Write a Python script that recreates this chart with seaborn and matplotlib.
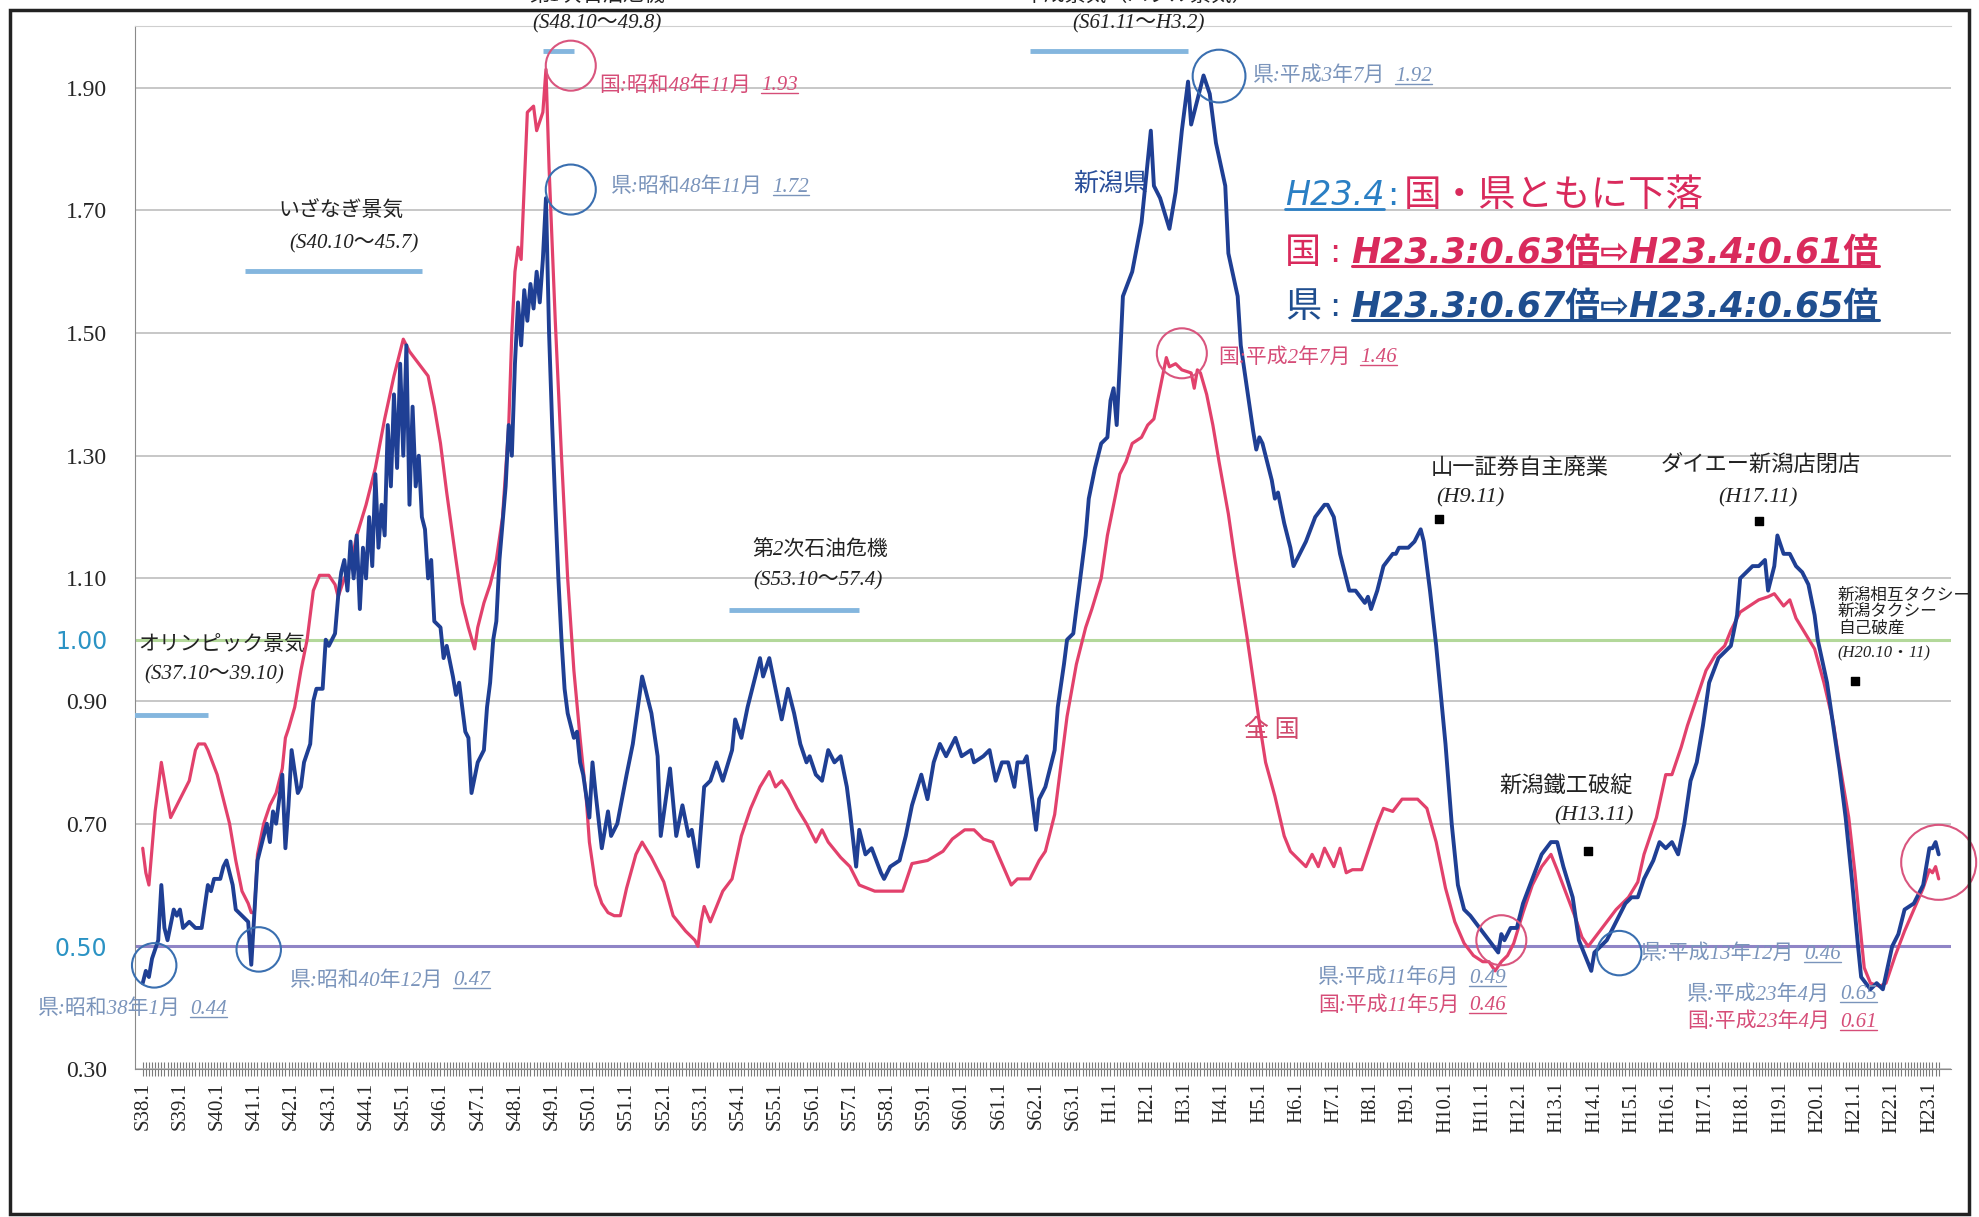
import numpy as np
import pandas as pd
import matplotlib
matplotlib.use("Agg")
import matplotlib.pyplot as plt
import seaborn as sns
from matplotlib.lines import Line2D
from matplotlib.patches import Rectangle
from matplotlib.transforms import IdentityTransform

# 月 = S38.1 (1963年1月) からの通し月数
ken_m = [0, 1, 2, 3, 5, 6, 7, 8, 10, 11,
         12, 13, 15, 17, 19, 21, 22, 23, 25, 26,
         27, 29, 30, 32, 34, 35, 37, 38, 40, 41,
         42, 43, 44, 45, 46, 47, 48, 50, 51, 52,
         54, 55, 56, 58, 59, 60, 62, 63, 64, 65,
         66, 67, 68, 69, 70, 71, 72, 73, 74, 75,
         76, 77, 78, 79, 80, 81, 82, 83, 84, 85,
         86, 87, 88, 89, 90, 91, 92, 93, 94, 96,
         97, 98, 100, 101, 102, 104, 105, 106, 108, 110,
         111, 112, 113, 114, 115, 117, 118, 119, 120, 121,
         122, 123, 124, 125, 126, 127, 128, 129, 130, 131,
         132, 133, 134, 135, 136, 137, 139, 140, 141, 142,
         144, 145, 146, 148, 150, 151, 153, 156, 158, 161,
         163, 164, 166, 167, 170, 172, 174, 176, 177, 179,
         181, 183, 185, 187, 190, 191, 193, 195, 197, 199,
         200, 202, 204, 206, 208, 210, 212, 214, 215, 217,
         219, 221, 223, 225, 227, 228, 230, 231, 233, 235,
         238, 239, 241, 244, 246, 248, 251, 253, 255, 257,
         259, 262, 264, 267, 268, 271, 273, 275, 277, 279,
         281, 282, 284, 285, 286, 288, 289, 291, 294, 295,
         297, 298, 300, 302, 304, 305, 307, 309, 311, 312,
         313, 314, 315, 316, 319, 322, 325, 326, 328, 331,
         333, 335, 337, 338, 340, 342, 344, 346, 349, 350,
         353, 354, 356, 358, 359, 360, 361, 362, 364, 365,
         366, 368, 370, 371, 373, 375, 378, 381, 382, 384,
         386, 389, 391, 394, 395, 396, 398, 400, 403, 404,
         405, 408, 410, 412, 413, 415, 417, 420, 422, 424,
         426, 428, 431, 434, 437, 438, 439, 441, 443, 445,
         448, 451, 454, 456, 458, 461, 463, 467, 468, 470,
         472, 475, 478, 480, 482, 484, 487, 489, 491, 493,
         495, 497, 499, 501, 503, 505, 508, 510, 512, 514,
         515, 517, 519, 521, 523, 524, 526, 527, 529, 531,
         533, 535, 537, 539, 540, 543, 545, 547, 549, 551,
         553, 554, 557, 559, 561, 564, 566, 568, 571, 574,
         576, 577, 578, 579]
ken_v = [0.44, 0.46, 0.45, 0.48, 0.51, 0.60, 0.53, 0.51, 0.56, 0.55,
         0.56, 0.53, 0.54, 0.53, 0.53, 0.60, 0.59, 0.61, 0.61, 0.63,
         0.64, 0.60, 0.56, 0.55, 0.54, 0.47, 0.64, 0.66, 0.70, 0.67,
         0.72, 0.70, 0.74, 0.78, 0.66, 0.73, 0.82, 0.75, 0.76, 0.80,
         0.83, 0.90, 0.92, 0.92, 1.00, 0.99, 1.01, 1.07, 1.11, 1.13,
         1.08, 1.16, 1.10, 1.17, 1.05, 1.15, 1.10, 1.20, 1.12, 1.27,
         1.15, 1.22, 1.17, 1.35, 1.25, 1.40, 1.28, 1.45, 1.30, 1.48,
         1.22, 1.38, 1.25, 1.30, 1.20, 1.18, 1.10, 1.13, 1.03, 1.02,
         0.97, 0.99, 0.94, 0.91, 0.93, 0.85, 0.84, 0.75, 0.80, 0.82,
         0.89, 0.93, 1.00, 1.03, 1.13, 1.25, 1.35, 1.30, 1.45, 1.55,
         1.48, 1.57, 1.52, 1.58, 1.54, 1.60, 1.55, 1.62, 1.72, 1.50,
         1.35, 1.22, 1.10, 1.00, 0.92, 0.88, 0.84, 0.85, 0.80, 0.78,
         0.71, 0.80, 0.75, 0.66, 0.72, 0.68, 0.70, 0.78, 0.83, 0.94,
         0.90, 0.88, 0.81, 0.68, 0.79, 0.68, 0.73, 0.68, 0.69, 0.63,
         0.76, 0.77, 0.80, 0.77, 0.82, 0.87, 0.84, 0.89, 0.93, 0.97,
         0.94, 0.97, 0.92, 0.87, 0.92, 0.88, 0.83, 0.80, 0.81, 0.78,
         0.77, 0.82, 0.80, 0.81, 0.76, 0.72, 0.63, 0.69, 0.65, 0.66,
         0.62, 0.61, 0.63, 0.64, 0.68, 0.73, 0.78, 0.74, 0.80, 0.83,
         0.81, 0.84, 0.81, 0.82, 0.80, 0.81, 0.82, 0.77, 0.80, 0.80,
         0.76, 0.80, 0.80, 0.81, 0.77, 0.69, 0.74, 0.76, 0.82, 0.89,
         0.96, 1.00, 1.01, 1.09, 1.17, 1.23, 1.28, 1.32, 1.33, 1.39,
         1.41, 1.35, 1.45, 1.56, 1.60, 1.68, 1.83, 1.74, 1.72, 1.67,
         1.73, 1.83, 1.91, 1.84, 1.88, 1.92, 1.89, 1.81, 1.74, 1.63,
         1.56, 1.48, 1.41, 1.34, 1.31, 1.33, 1.32, 1.30, 1.26, 1.23,
         1.24, 1.19, 1.15, 1.12, 1.14, 1.16, 1.20, 1.22, 1.22, 1.20,
         1.14, 1.08, 1.08, 1.06, 1.07, 1.05, 1.08, 1.12, 1.14, 1.14,
         1.15, 1.15, 1.16, 1.18, 1.16, 1.08, 0.99, 0.83, 0.70, 0.60,
         0.56, 0.55, 0.53, 0.51, 0.49, 0.52, 0.51, 0.53, 0.53, 0.57,
         0.61, 0.65, 0.67, 0.67, 0.63, 0.58, 0.51, 0.46, 0.49, 0.50,
         0.51, 0.54, 0.57, 0.58, 0.58, 0.61, 0.64, 0.67, 0.66, 0.67,
         0.65, 0.70, 0.77, 0.80, 0.86, 0.93, 0.97, 0.98, 0.99, 1.04,
         1.10, 1.11, 1.12, 1.12, 1.13, 1.08, 1.12, 1.17, 1.14, 1.14,
         1.12, 1.11, 1.09, 1.04, 1.00, 0.93, 0.86, 0.79, 0.71, 0.61,
         0.50, 0.45, 0.43, 0.44, 0.43, 0.50, 0.52, 0.56, 0.57, 0.60,
         0.66, 0.66, 0.67, 0.65]

kuni_m = [0, 1, 2, 4, 6, 8, 9, 11, 13, 15,
          17, 18, 20, 21, 24, 26, 28, 30, 32, 34,
          35, 36, 37, 39, 41, 43, 45, 46, 47, 49,
          51, 53, 55, 57, 60, 62, 63, 65, 67, 69,
          72, 75, 78, 81, 83, 84, 86, 89, 92, 94,
          96, 98, 101, 103, 105, 107, 108, 110, 112, 114,
          116, 118, 119, 120, 121, 122, 124, 126, 127, 129,
          130, 131, 133, 135, 137, 139, 141, 143, 144, 146,
          148, 150, 152, 154, 156, 159, 161, 164, 168, 171,
          175, 178, 179, 180, 181, 183, 187, 190, 193, 196,
          199, 202, 204, 206, 208, 211, 214, 217, 219, 221,
          225, 228, 231, 236, 245, 248, 253, 258, 261, 265,
          268, 271, 274, 277, 280, 282, 286, 289, 291, 294,
          296, 298, 301, 304, 306, 309, 311, 313, 315, 317,
          319, 322, 324, 326, 328, 330, 331, 333, 335, 338,
          339, 340, 341, 343, 345, 347, 350, 352, 354, 356,
          358, 360, 362, 365, 368, 370, 372, 375, 377, 379,
          381, 384, 386, 388, 390, 393, 396, 398, 400, 403,
          406, 411, 414, 417, 420, 423, 426, 429, 432, 434,
          436, 438, 440, 442, 445, 448, 451, 454, 456, 459,
          462, 464, 466, 469, 472, 475, 479, 482, 484, 488,
          491, 493, 496, 498, 501, 504, 507, 510, 512, 515,
          518, 521, 524, 526, 529, 531, 533, 536, 539, 542,
          545, 547, 550, 552, 554, 555, 557, 560, 562, 565,
          568, 571, 574, 576, 577, 578, 579]
kuni_v = [0.66, 0.62, 0.60, 0.72, 0.80, 0.74, 0.71, 0.73, 0.75, 0.77,
          0.82, 0.83, 0.83, 0.82, 0.78, 0.74, 0.70, 0.64, 0.59, 0.57,
          0.555, 0.555, 0.65, 0.70, 0.73, 0.75, 0.79, 0.84, 0.855, 0.89,
          0.95, 1.00, 1.08, 1.105, 1.105, 1.09, 1.07, 1.10, 1.12, 1.17,
          1.22, 1.28, 1.36, 1.43, 1.47, 1.49, 1.47, 1.45, 1.43, 1.38,
          1.32, 1.24, 1.13, 1.06, 1.02, 0.985, 1.02, 1.06, 1.09, 1.13,
          1.20, 1.35, 1.50, 1.60, 1.64, 1.62, 1.86, 1.87, 1.83, 1.86,
          1.93, 1.77, 1.52, 1.30, 1.10, 0.95, 0.84, 0.74, 0.67, 0.60,
          0.57, 0.555, 0.55, 0.55, 0.595, 0.65, 0.67, 0.645, 0.605, 0.55,
          0.525, 0.51, 0.50, 0.54, 0.565, 0.54, 0.59, 0.61, 0.68, 0.725,
          0.76, 0.785, 0.76, 0.77, 0.755, 0.725, 0.70, 0.67, 0.69, 0.67,
          0.645, 0.63, 0.60, 0.59, 0.59, 0.635, 0.64, 0.655, 0.675, 0.69,
          0.69, 0.675, 0.67, 0.635, 0.60, 0.61, 0.61, 0.64, 0.655, 0.715,
          0.795, 0.875, 0.96, 1.02, 1.05, 1.10, 1.17, 1.22, 1.27, 1.29,
          1.32, 1.33, 1.35, 1.36, 1.41, 1.46, 1.445, 1.45, 1.44, 1.435,
          1.41, 1.44, 1.435, 1.40, 1.35, 1.29, 1.205, 1.135, 1.07, 1.005,
          0.935, 0.865, 0.80, 0.745, 0.68, 0.655, 0.645, 0.63, 0.65, 0.63,
          0.66, 0.63, 0.66, 0.62, 0.625, 0.625, 0.67, 0.70, 0.725, 0.72,
          0.74, 0.74, 0.725, 0.67, 0.595, 0.54, 0.505, 0.485, 0.475, 0.475,
          0.46, 0.475, 0.485, 0.505, 0.555, 0.60, 0.63, 0.65, 0.625, 0.585,
          0.545, 0.515, 0.50, 0.52, 0.54, 0.56, 0.58, 0.605, 0.65, 0.71,
          0.78, 0.78, 0.825, 0.86, 0.905, 0.95, 0.975, 0.99, 1.015, 1.045,
          1.055, 1.065, 1.07, 1.075, 1.055, 1.065, 1.035, 1.01, 0.985, 0.93,
          0.865, 0.80, 0.71, 0.62, 0.515, 0.465, 0.44, 0.435, 0.44, 0.485,
          0.525, 0.56, 0.595, 0.625, 0.62, 0.63, 0.61]
assert len(ken_m) == len(ken_v) and len(kuni_m) == len(kuni_v)

x_labels = ['S38.1', 'S39.1', 'S40.1', 'S41.1', 'S42.1', 'S43.1', 'S44.1', 'S45.1',
            'S46.1', 'S47.1', 'S48.1', 'S49.1', 'S50.1', 'S51.1', 'S52.1', 'S53.1',
            'S54.1', 'S55.1', 'S56.1', 'S57.1', 'S58.1', 'S59.1', 'S60.1', 'S61.1',
            'S62.1', 'S63.1', 'H1.1', 'H2.1', 'H3.1', 'H4.1', 'H5.1', 'H6.1', 'H7.1',
            'H8.1', 'H9.1', 'H10.1', 'H11.1', 'H12.1', 'H13.1', 'H14.1', 'H15.1',
            'H16.1', 'H17.1', 'H18.1', 'H19.1', 'H20.1', 'H21.1', 'H22.1', 'H23.1']
y_ticks = [0.30, 0.50, 0.70, 0.90, 1.00, 1.10, 1.30, 1.50, 1.70, 1.90]

# 景気・危機の期間 (名称, 期間, 開始月, 終了月)
periods = [('オリンピック景気', '(S37.10～39.10)', -3, 21),
           ('いざなぎ景気', '(S40.10～45.7)', 33, 90),
           ('第1次石油危機', '(S48.10～49.8)', 129, 139),
           ('第2次石油危機', '(S53.10～57.4)', 189, 231),
           ('平成景気（バブル景気）', '(S61.11～H3.2)', 286, 337)]

# 出来事 (名称, 時期)
events = [('山一証券自主廃業', '(H9.11)'),
          ('新潟鐵工破綻', '(H13.11)'),
          ('ダイエー新潟店閉店', '(H17.11)'),
          ('新潟相互タクシー\n新潟タクシー\n自己破産', '(H20.10・11)')]

# 注記 (系列, 文, 値)
notes = [('kuni', '国:昭和48年11月', '1.93'),
         ('ken', '県:昭和48年11月', '1.72'),
         ('ken', '県:平成3年7月', '1.92'),
         ('kuni', '国:平成2年7月', '1.46'),
         ('ken', '県:昭和38年1月', '0.44'),
         ('ken', '県:昭和40年12月', '0.47'),
         ('ken', '県:平成11年6月', '0.49'),
         ('kuni', '国:平成11年5月', '0.46'),
         ('ken', '県:平成13年12月', '0.46'),
         ('ken', '県:平成23年4月', '0.65'),
         ('kuni', '国:平成23年4月', '0.61')]

BLUE = '#1f3f94'
RED = '#e2416c'
TXT = {'ken': '#7a94bb', 'kuni': '#d64d78'}
RING = {'ken': '#3a6fb0', 'kuni': '#d9557e'}
BAR = '#84b6de'
TEAL = '#2b93c4'
CRIMSON = '#d92a5c'
NAVY = '#1f4e8f'

sns.set_style('white')
plt.rcParams['font.family'] = ['Liberation Serif', 'Noto Sans CJK JP', 'DejaVu Sans']

fig = plt.figure(figsize=(19.79, 12.17), dpi=100)
ax = fig.add_axes([0.0682, 0.1216, 0.9177, 0.8567])

df = pd.concat([pd.DataFrame({'月': kuni_m, '倍率': kuni_v, '系列': '全国'}),
                pd.DataFrame({'月': ken_m, '倍率': ken_v, '系列': '新潟県'})],
               ignore_index=True)
sns.lineplot(data=df, x='月', y='倍率', hue='系列', hue_order=['全国', '新潟県'],
             size='系列', sizes={'全国': 2.3, '新潟県': 2.8},
             palette={'全国': RED, '新潟県': BLUE}, estimator=None, sort=False,
             legend=False, ax=ax, zorder=4)

ax.set_xlim(-2.5, 583)
ax.set_ylim(0.30, 2.00)
ax.set_xlabel('')
ax.set_ylabel('')
ax.set_yticks(y_ticks)
ax.set_yticklabels([f'{t:.2f}' for t in y_ticks])
ax.set_xticks(np.arange(len(x_labels)) * 12)
ax.set_xticklabels(x_labels, rotation=90, fontsize=15)
ax.set_xticks(np.arange(0, 580), minor=True)
ax.tick_params(axis='y', left=False, length=0, pad=20, labelsize=17)
ax.tick_params(axis='x', which='both', bottom=True, direction='inout', length=10,
               width=0.8, color='#7a7a7a', pad=4)
for lab in ax.get_yticklabels():
    if lab.get_text() in ('1.00', '0.50'):
        lab.set_color(TEAL)
        lab.set_fontfamily(['DejaVu Sans'])
        lab.set_fontsize(17)

ax.grid(axis='y', color='#b8b8b8', lw=1.1)
ax.grid(axis='x', visible=False)
ax.set_axisbelow(True)
ax.axhline(1.0, color='#b3d89a', lw=2.2, zorder=1.5)
ax.axhline(0.5, color='#8f84c6', lw=2.2, zorder=1.5)
for side in ('left', 'bottom'):
    ax.spines[side].set_color('#8a8a8a')
ax.spines['top'].set_color('#cfcfcf')
ax.spines['right'].set_visible(False)

# 期間バーと名称
period_layout = [(0.878, (-1.5, 0.991), (0.5, 0.942), 'left'),
                 (1.602, (63.9, 1.697), (68, 1.646), 'center'),
                 (1.960, (146.5, 2.05), (146.5, 2.004), 'center'),
                 (1.049, (218.5, 1.146), (217.7, 1.096), 'center'),
                 (1.960, (321, 2.05), (321, 2.004), 'center')]
for (name, span, s, e), (lv, nxy, sxy, ha) in zip(periods, period_layout):
    ax.plot([s, e], [lv, lv], color=BAR, lw=3.5, solid_capstyle='butt', zorder=3)
    ax.text(*nxy, name, ha=ha, va='center', fontsize=15, style='italic',
            color='#222222', clip_on=False)
    ax.text(*sxy, span, ha=ha, va='center', fontsize=15, style='italic',
            color='#222222', clip_on=False)

# 出来事
event_layout = [((444, 1.279), (428, 1.232), (418, 1.197), 16),
                ((459, 0.761), (468, 0.712), (466, 0.656), 16),
                ((521.6, 1.284), (520.7, 1.232), (521, 1.193), 16),
                ((546.5, 1.085), (546.5, 0.977), (552, 0.932), 12)]
for (name, when), (nxy, wxy, mxy, fs) in zip(events, event_layout):
    if fs < 16:
        ax.text(*nxy, name, ha='left', va='top', fontsize=fs, style='italic',
                color='#222222', linespacing=1.05, clip_on=False)
        ax.text(*wxy, when, ha='left', va='center', fontsize=fs, style='italic',
                color='#222222', clip_on=False)
    else:
        ax.text(*nxy, name, ha='center', va='center', fontsize=fs, style='italic',
                color='#222222')
        ax.text(*wxy, when, ha='center', va='center', fontsize=fs, style='italic',
                color='#222222')
    ax.scatter([mxy[0]], [mxy[1]], marker='s', s=30, color='black', zorder=6)

# 丸印
rings = [(138, 1.936, 'kuni', 18), (138, 1.734, 'ken', 18), (347, 1.919, 'ken', 19),
         (335, 1.467, 'kuni', 18), (3.7, 0.469, 'ken', 16), (37.4, 0.495, 'ken', 16),
         (438, 0.51, 'kuni', 18), (476, 0.489, 'ken', 16), (579, 0.637, 'kuni', 27)]
for mx, my, who, r in rings:
    ax.scatter([mx], [my], s=(2 * r) ** 2, facecolors='none', edgecolors=RING[who],
               linewidths=1.5, zorder=5, clip_on=False)

# 注記ラベル
note_xy = [(147.3, 1.903), (151, 1.738), (358, 1.919), (346.6, 1.460), (-33.8, 0.397),
           (47.6, 0.444), (379, 0.448), (379, 0.403), (483, 0.487), (498, 0.421),
           (498, 0.376)]
underlined = []
for (who, label, val), xy in zip(notes, note_xy):
    t = ax.text(*xy, label, ha='left', va='center', fontsize=15, style='italic',
                color=TXT[who], clip_on=False, zorder=7)
    v = ax.annotate(val, xy=(1, 0.5), xycoords=t, xytext=(7, 0),
                    textcoords='offset points', ha='left', va='center',
                    fontsize=15, style='italic', color=TXT[who], zorder=7)
    underlined.append((v, TXT[who], 1.0))

ax.text(312, 1.744, '新潟県', ha='center', va='center', fontsize=18, color='#2a4f9a',
        family=['Noto Sans CJK JP'])
ax.text(364, 0.853, '全 国', ha='center', va='center', fontsize=18, color='#d04a6c',
        family=['Noto Sans CJK JP'])

# 右上の速報
h1 = ax.text(368.2, 1.724, 'H23.4', ha='left', va='center', fontsize=24,
             style='oblique', color='#2a7fc4', family=['DejaVu Sans'])
h1b = ax.annotate(':', xy=(1, 0.5), xycoords=h1, xytext=(2, 0), textcoords='offset points',
                  ha='left', va='center', fontsize=24, color='#2a7fc4', family=['DejaVu Sans'])
ax.annotate('国・県ともに下落', xy=(1, 0.5), xycoords=h1b, xytext=(4, 0),
            textcoords='offset points', ha='left', va='center', fontsize=27,
            color=CRIMSON, family=['Noto Sans CJK JP'])
underlined.append((h1, '#2a7fc4', 2.0))

for lv, head, body, col in [(1.631, '国', 'H23.3:0.63倍⇨H23.4:0.61倍', CRIMSON),
                            (1.543, '県', 'H23.3:0.67倍⇨H23.4:0.65倍', NAVY)]:
    a = ax.text(368.2, lv, head, ha='left', va='center', fontsize=26, color=col,
                family=['Noto Sans CJK JP'])
    b = ax.annotate(':', xy=(1, 0.5), xycoords=a, xytext=(6, 0), textcoords='offset points',
                    ha='left', va='center', fontsize=24, color=col, family=['DejaVu Sans'])
    c = ax.annotate(body, xy=(1, 0.5), xycoords=b, xytext=(8, 0), textcoords='offset points',
                    ha='left', va='center', fontsize=25, color=col, weight='bold',
                    style='oblique', family=['DejaVu Sans', 'Noto Sans CJK JP'])
    underlined.append((c, col, 2.2))

fig.add_artist(Rectangle((0.005, 0.0025), 0.99, 0.9893, transform=fig.transFigure,
                         fill=False, ec='#222222', lw=2.5))

fig.canvas.draw()
renderer = fig.canvas.get_renderer()
for t, col, lw in underlined:
    bb = t.get_window_extent(renderer)
    yy = bb.y0 + 0.1 * bb.height
    fig.add_artist(Line2D([bb.x0, bb.x1], [yy, yy], transform=IdentityTransform(),
                          color=col, lw=lw))

fig.savefig('out.png', dpi=100)
